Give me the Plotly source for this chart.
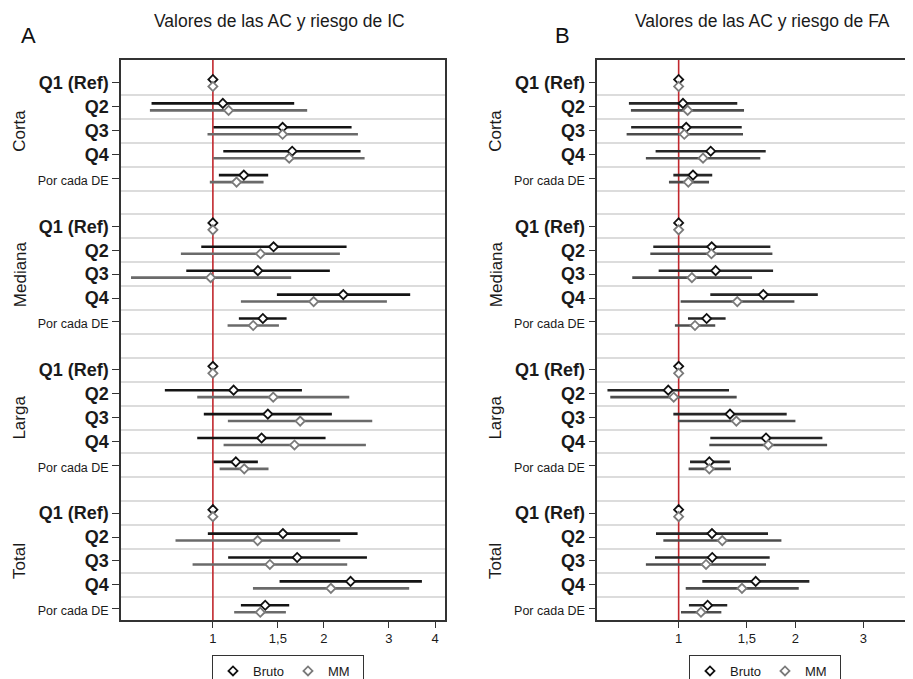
import plotly.graph_objects as go

# ---------------- data ----------------
groups = ["Corta", "Mediana", "Larga", "Total"]
items = ["Q1 (Ref)", "Q2", "Q3", "Q4", "Por cada DE"]

# Panel A: riesgo de IC (order: Corta, Mediana, Larga, Total x Q1..Q4, Por cada DE)
ic_bruto_or = [1, 1.064, 1.545, 1.640, 1.213, 1, 1.460, 1.324, 2.256, 1.366,
               1, 1.138, 1.409, 1.355, 1.154, 1, 1.548, 1.692, 2.361, 1.386]
ic_bruto_lo = [1, 0.682, 1.004, 1.067, 1.038, 1, 0.930, 0.847, 1.491, 1.176,
               1, 0.741, 0.945, 0.907, 1.004, 1, 0.969, 1.100, 1.516, 1.191]
ic_bruto_hi = [1, 1.661, 2.376, 2.513, 1.412, 1, 2.303, 2.075, 3.425, 1.584,
               1, 1.743, 2.101, 2.020, 1.324, 1, 2.467, 2.615, 3.685, 1.610]
ic_mm_or = [1, 1.103, 1.545, 1.610, 1.159, 1, 1.346, 0.986, 1.875, 1.286,
            1, 1.457, 1.724, 1.664, 1.216, 1, 1.322, 1.427, 2.088, 1.344]
ic_mm_lo = [1, 0.675, 0.967, 1.002, 0.981, 1, 0.819, 0.600, 1.191, 1.096,
            1, 0.907, 1.098, 1.069, 1.043, 1, 0.792, 0.881, 1.284, 1.142]
ic_mm_hi = [1, 1.801, 2.472, 2.577, 1.372, 1, 2.209, 1.630, 2.962, 1.510,
            1, 2.342, 2.703, 2.598, 1.415, 1, 2.213, 2.312, 3.404, 1.577]

# Panel B: riesgo de FA
fa_bruto_or = [1, 1.026, 1.046, 1.210, 1.089, 1, 1.217, 1.246, 1.654, 1.181,
               1, 0.940, 1.357, 1.681, 1.200, 1, 1.219, 1.221, 1.581, 1.188]
fa_bruto_lo = [1, 0.744, 0.754, 0.872, 0.969, 1, 0.860, 0.888, 1.207, 1.057,
               1, 0.655, 0.969, 1.207, 1.070, 1, 0.874, 0.869, 1.151, 1.063]
fa_bruto_hi = [1, 1.417, 1.455, 1.678, 1.221, 1, 1.725, 1.753, 2.287, 1.322,
               1, 1.349, 1.901, 2.350, 1.355, 1, 1.701, 1.718, 2.175, 1.335]
fa_mm_or = [1, 1.055, 1.034, 1.156, 1.059, 1, 1.215, 1.082, 1.417, 1.102,
            1, 0.971, 1.409, 1.704, 1.200, 1, 1.296, 1.177, 1.457, 1.142]
fa_mm_lo = [1, 0.753, 0.734, 0.823, 0.944, 1, 0.845, 0.759, 1.012, 0.978,
            1, 0.666, 0.996, 1.200, 1.061, 1, 0.913, 0.823, 1.043, 1.014]
fa_mm_hi = [1, 1.475, 1.466, 1.625, 1.198, 1, 1.746, 1.547, 1.990, 1.243,
            1, 1.412, 2.002, 2.417, 1.365, 1, 1.842, 1.681, 2.042, 1.289]

ref_value = 1
x_tickvals = [1, 1.5, 2, 3, 4]
x_ticktext = ["1", "1,5", "2", "3", "4"]

titles = ["Valores de las AC y riesgo de IC", "Valores de las AC y riesgo de FA"]
panel_letters = ["A", "B"]

# ---------------- layout helpers ----------------
# the page body adds an 8px margin, so design coordinates are shifted by 8px
SH = 8
W, H = 913 - SH, 679 - SH
FONT = "Liberation Sans, Arial, sans-serif"


def px(xr):
    return (xr - SH) / W


def py(yr):
    return 1 - (yr - SH) / H


rows = [6 * g + i for g in range(len(groups)) for i in range(len(items))]
OFF = 0.146
yrange = [22.47, -0.962]

ticktext_y = []
for g in groups:
    for it in items:
        if it.startswith("Q"):
            ticktext_y.append("<b>%s</b>" % it)
        else:
            ticktext_y.append("<span style='font-size:12.5px'>%s</span>" % it)

fig = go.Figure()

panels = [
    dict(xa="x", ya="y", leg="legend",
         b=(ic_bruto_or, ic_bruto_lo, ic_bruto_hi), m=(ic_mm_or, ic_mm_lo, ic_mm_hi),
         bcol="#141414", mcol="#6a6a6a"),
    dict(xa="x2", ya="y2", leg="legend2",
         b=(fa_bruto_or, fa_bruto_lo, fa_bruto_hi), m=(fa_mm_or, fa_mm_lo, fa_mm_hi),
         bcol="#262626", mcol="#4c4c4c"),
]

for p in panels:
    # red reference line at 1
    fig.add_trace(go.Scatter(x=[ref_value, ref_value], y=yrange, mode="lines",
                             xaxis=p["xa"], yaxis=p["ya"], showlegend=False,
                             line=dict(color="#c1272d", width=1.6), hoverinfo="skip"))
    for key, col, off in [("b", p["bcol"], -OFF), ("m", p["mcol"], OFF)]:
        est, lo, hi = p[key]
        xs, ys = [], []
        for r, l, h in zip(rows, lo, hi):
            if h > l:
                xs += [l, h, None]
                ys += [r + off, r + off, None]
        fig.add_trace(go.Scatter(x=xs, y=ys, mode="lines", xaxis=p["xa"], yaxis=p["ya"],
                                 line=dict(color=col, width=2.6), showlegend=False,
                                 hoverinfo="skip"))
    for key, name, mk_col, off in [("b", "Bruto", "#111111", -OFF), ("m", "MM", "#7a7a7a", OFF)]:
        est, lo, hi = p[key]
        fig.add_trace(go.Scatter(x=est, y=[r + off for r in rows], mode="markers",
                                 xaxis=p["xa"], yaxis=p["ya"], name=name, legend=p["leg"],
                                 marker=dict(symbol="diamond", size=7, color="white",
                                             line=dict(color=mk_col, width=1.8))))

ydom = [py(620), py(60)]
grid_vals = [k + 0.5 for k in range(22)]

common_y = dict(domain=ydom, range=yrange, tickmode="array", tickvals=rows,
                ticktext=ticktext_y, ticks="outside", ticklen=7, tickwidth=1.2,
                tickcolor="#333", showgrid=False, zeroline=False, showline=True,
                linecolor="#333", linewidth=1.5, automargin=False,
                tickfont=dict(family=FONT, size=18, color="#1a1a1a"),
                minor=dict(tickmode="array", tickvals=grid_vals, showgrid=True,
                           gridcolor="#dcdcdc", gridwidth=1.5, ticks=""))
common_x = dict(type="log", tickmode="array", tickvals=x_tickvals, ticktext=x_ticktext,
                ticks="outside", ticklen=6, tickwidth=1.2, tickcolor="#333",
                showgrid=False, zeroline=False, showline=True, linecolor="#333",
                linewidth=1.5, automargin=False, ticklabeloverflow="allow",
                tickfont=dict(family=FONT, size=13, color="#1a1a1a"))

leg_common = dict(orientation="h", xanchor="left", yanchor="top", y=py(655),
                  bordercolor="#333", borderwidth=1, itemwidth=30,
                  entrywidthmode="pixels", entrywidth=30, tracegroupgap=0,
                  font=dict(family=FONT, size=13, color="#1a1a1a"))

fig.update_layout(
    width=W, height=H, margin=dict(l=0, r=0, t=0, b=0, autoexpand=False),
    paper_bgcolor="white", plot_bgcolor="white", showlegend=True,
    xaxis=dict(common_x, domain=[px(121), px(445)], range=[-0.249, 0.629],
               mirror=True, anchor="y"),
    yaxis=dict(common_y, mirror=True, anchor="x"),
    xaxis2=dict(common_x, domain=[px(597.3), 1.0], range=[-0.21, 0.605],
                mirror=True, anchor="y2"),
    yaxis2=dict(common_y, mirror=False, anchor="x2"),
    legend=dict(leg_common, x=px(212)),
    legend2=dict(leg_common, x=px(689)),
    font=dict(family=FONT),
)

# group labels
for xc, ya in [(20, "y"), (496, "y2")]:
    for gi, g in enumerate(groups):
        fig.add_annotation(text=g, xref="paper", yref=ya, x=px(xc), y=6 * gi + 2,
                           textangle=-90, showarrow=False, xanchor="center", yanchor="middle",
                           font=dict(family=FONT, size=17, color="#1a1a1a"))

# titles and panel letters
for t, xc in zip(titles, [279, 762]):
    fig.add_annotation(text=t, xref="paper", yref="paper", x=px(xc), y=py(21),
                       showarrow=False, xanchor="center", yanchor="middle",
                       font=dict(family=FONT, size=17.5, color="#1a1a1a"))
for L, xc in zip(panel_letters, [28, 562]):
    fig.add_annotation(text=L, xref="paper", yref="paper", x=px(xc), y=py(35),
                       showarrow=False, xanchor="center", yanchor="middle",
                       font=dict(family=FONT, size=22, color="#111111"))

fig.write_html("out.html")
